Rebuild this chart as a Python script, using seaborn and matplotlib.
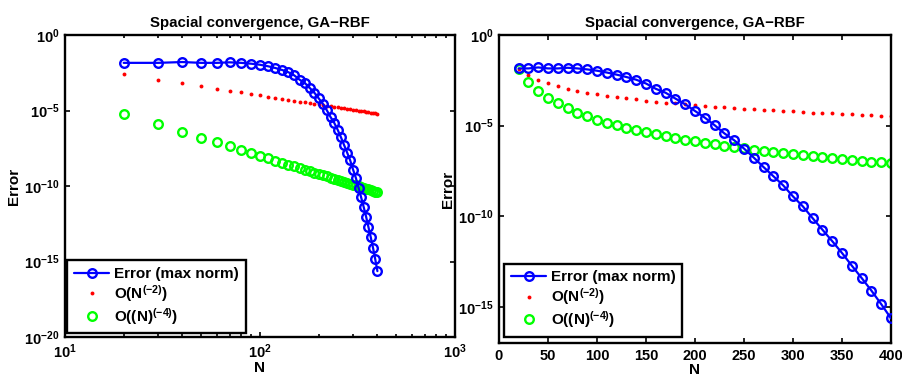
import matplotlib
matplotlib.use("Agg")
import matplotlib.pyplot as plt
from matplotlib.ticker import LogLocator, NullLocator, NullFormatter
import seaborn as sns

# ---------------- data ----------------
N = [20, 30, 40, 50, 60, 70, 80, 90, 100, 110, 120, 130, 140, 150, 160, 170, 180, 190, 200,
     210, 220, 230, 240, 250, 260, 270, 280, 290, 300, 310, 320, 330, 340, 350, 360, 370,
     380, 390, 400]

error_max = [1.43e-2, 1.43e-2, 1.62e-2, 1.43e-2, 1.43e-2, 1.55e-2, 1.43e-2, 1.26e-2, 1.07e-2,
             8.5e-3, 6.5e-3, 4.8e-3, 3.4e-3, 2.1e-3, 1.07e-3, 6.5e-4, 3.1e-4, 1.5e-4, 6.4e-5,
             2.75e-5, 1.05e-5, 3.7e-6, 1.55e-6, 5.4e-7, 1.7e-7, 5.1e-8, 1.6e-8, 5.0e-9,
             1.23e-9, 3.5e-10, 7.8e-11, 1.8e-11, 4.2e-12, 9.3e-13, 1.86e-13, 3.9e-14,
             7.8e-15, 1.4e-15, 2.3e-16]

# left panel reference slopes
order2_left = [2.50e-3, 1.11e-3, 6.25e-4, 4.00e-4, 2.78e-4, 2.04e-4, 1.56e-4, 1.23e-4, 1.00e-4,
               8.26e-5, 6.94e-5, 5.92e-5, 5.10e-5, 4.44e-5, 3.91e-5, 3.46e-5, 3.09e-5, 2.77e-5,
               2.50e-5, 2.27e-5, 2.07e-5, 1.89e-5, 1.74e-5, 1.60e-5, 1.48e-5, 1.37e-5, 1.28e-5,
               1.19e-5, 1.11e-5, 1.04e-5, 9.77e-6, 9.18e-6, 8.65e-6, 8.16e-6, 7.72e-6, 7.30e-6,
               6.93e-6, 6.57e-6, 6.25e-6]
order4_left = [6.25e-6, 1.23e-6, 3.91e-7, 1.60e-7, 7.72e-8, 4.16e-8, 2.44e-8, 1.52e-8, 1.00e-8,
               6.83e-9, 4.82e-9, 3.50e-9, 2.60e-9, 1.98e-9, 1.53e-9, 1.20e-9, 9.53e-10, 7.67e-10,
               6.25e-10, 5.14e-10, 4.27e-10, 3.57e-10, 3.01e-10, 2.56e-10, 2.19e-10, 1.88e-10,
               1.63e-10, 1.41e-10, 1.23e-10, 1.08e-10, 9.54e-11, 8.43e-11, 7.48e-11, 6.66e-11,
               5.95e-11, 5.34e-11, 4.80e-11, 4.32e-11, 3.91e-11]

# right panel reference slopes (scaled to start at the error)
order2_right = [1.35e-2, 6.0e-3, 3.38e-3, 2.16e-3, 1.50e-3, 1.10e-3, 8.44e-4, 6.67e-4, 5.40e-4,
                4.46e-4, 3.75e-4, 3.20e-4, 2.76e-4, 2.40e-4, 2.11e-4, 1.87e-4, 1.67e-4, 1.50e-4,
                1.35e-4, 1.22e-4, 1.12e-4, 1.02e-4, 9.38e-5, 8.64e-5, 7.99e-5, 7.41e-5, 6.89e-5,
                6.42e-5, 6.00e-5, 5.62e-5, 5.27e-5, 4.96e-5, 4.67e-5, 4.41e-5, 4.17e-5, 3.94e-5,
                3.74e-5, 3.55e-5, 3.38e-5]
order4_right = [1.35e-2, 2.67e-3, 8.44e-4, 3.46e-4, 1.67e-4, 9.0e-5, 5.27e-5, 3.29e-5, 2.16e-5,
                1.48e-5, 1.04e-5, 7.56e-6, 5.62e-6, 4.27e-6, 3.30e-6, 2.59e-6, 2.06e-6, 1.66e-6,
                1.35e-6, 1.11e-6, 9.22e-7, 7.72e-7, 6.51e-7, 5.53e-7, 4.73e-7, 4.06e-7, 3.51e-7,
                3.05e-7, 2.67e-7, 2.34e-7, 2.06e-7, 1.82e-7, 1.62e-7, 1.44e-7, 1.29e-7, 1.15e-7,
                1.04e-7, 9.34e-8, 8.44e-8]

title = "Spacial convergence, GA\u2212RBF"
labels = ["Error (max norm)", r"O(N$^{(-2)}$)", r"O((N)$^{(-4)}$)"]

left_yticks = [1e0, 1e-5, 1e-10, 1e-15, 1e-20]
right_yticks = [1e0, 1e-5, 1e-10, 1e-15]
left_xticks = [10, 100, 1000]
right_xticks = [0, 50, 100, 150, 200, 250, 300, 350, 400]

# ---------------- style ----------------
sns.set_theme(style="white")
plt.rcParams["font.family"] = ["Liberation Sans", "DejaVu Sans"]
plt.rcParams["font.weight"] = "bold"
plt.rcParams["text.color"] = "black"
plt.rcParams["axes.labelcolor"] = "black"
plt.rcParams["xtick.color"] = "black"
plt.rcParams["ytick.color"] = "black"
plt.rcParams["mathtext.fontset"] = "custom"
plt.rcParams["mathtext.rm"] = "Liberation Sans:bold"
plt.rcParams["mathtext.bf"] = "Liberation Sans:bold"
plt.rcParams["mathtext.it"] = "Liberation Sans:bold"
plt.rcParams["mathtext.sf"] = "Liberation Sans:bold"
plt.rcParams["mathtext.default"] = "bf"

BLUE = (0, 0, 1)
RED = (1, 0, 0)
GREEN = (0, 1, 0)

fig = plt.figure(figsize=(9.03, 3.78), dpi=100)
axL = fig.add_axes([65 / 903, 1 - 337 / 378, 390 / 903, 302 / 378])
axR = fig.add_axes([499 / 903, 1 - 343 / 378, 392 / 903, 308 / 378])


def decade_label(v):
    import math
    e = int(round(math.log10(v)))
    return r"$\mathbf{10^{%d}}$" % e


def draw(ax, r2, r4):
    ax.set_yscale("log")
    sns.lineplot(x=N, y=error_max, ax=ax, color=BLUE, marker="o", markersize=6.2,
                 markerfacecolor="none", markeredgecolor=BLUE, markeredgewidth=1.7,
                 linewidth=1.6, label=labels[0], zorder=3)
    sns.lineplot(x=N, y=r2, ax=ax, color=RED, linestyle="", marker="o", markersize=2.8,
                 markeredgewidth=0, markerfacecolor=RED, label=labels[1], zorder=2)
    sns.lineplot(x=N, y=r4, ax=ax, color=GREEN, linestyle="", marker="o", markersize=6.2,
                 markerfacecolor="none", markeredgecolor=GREEN, markeredgewidth=1.7,
                 label=labels[2], zorder=2)
    ax.set_title(title, fontsize=10.8, fontweight="bold", pad=6, color="black")
    ax.set_xlabel("N", fontsize=11, fontweight="bold", labelpad=0)
    ax.set_ylabel("Error", fontsize=11, fontweight="bold", labelpad=2)
    for s in ax.spines.values():
        s.set_linewidth(1.7)
        s.set_color("black")
        s.set_visible(True)
    ax.tick_params(which="both", direction="in", top=True, right=True, bottom=True,
                   left=True, width=1.2, colors="black", labelsize=10.5, pad=4)
    ax.tick_params(which="major", length=3.5)
    ax.tick_params(which="minor", length=2.2)
    ax.grid(False)
    ax.set_facecolor("white")


# left panel (log-log)
axL.set_xscale("log")
draw(axL, order2_left, order4_left)
axL.set_xlim(10, 1000)
axL.set_ylim(1e-20, 1e0)
axL.set_xticks(left_xticks, [decade_label(v) for v in left_xticks])
axL.xaxis.set_minor_locator(LogLocator(base=10, subs=[2, 3, 4, 5, 6, 7, 8, 9]))
axL.xaxis.set_minor_formatter(NullFormatter())
axL.set_yticks(left_yticks, [decade_label(v) for v in left_yticks])
axL.yaxis.set_minor_locator(NullLocator())

# right panel (lin-log)
draw(axR, order2_right, order4_right)
axR.set_xlim(0, 400)
axR.set_ylim(1e-17, 1e0)
axR.set_xticks(right_xticks, [str(v) for v in right_xticks])
axR.xaxis.set_minor_locator(NullLocator())
axR.set_yticks(right_yticks, [decade_label(v) for v in right_yticks])
axR.yaxis.set_minor_locator(NullLocator())

for ax, anchor in ((axL, (0.006, 0.012)), (axR, (0.013, 0.02))):
    leg = ax.legend(loc="lower left", bbox_to_anchor=anchor, fontsize=11, frameon=True,
                    fancybox=False, shadow=False, framealpha=1, edgecolor="black",
                    handlelength=2.3, handletextpad=0.3, borderpad=0.45,
                    labelspacing=0.12, borderaxespad=0, numpoints=1)
    leg.get_frame().set_linewidth(1.7)
    for t in leg.get_texts():
        t.set_fontweight("bold")
        t.set_color("black")

fig.savefig("out.png", dpi=100, facecolor="white")
